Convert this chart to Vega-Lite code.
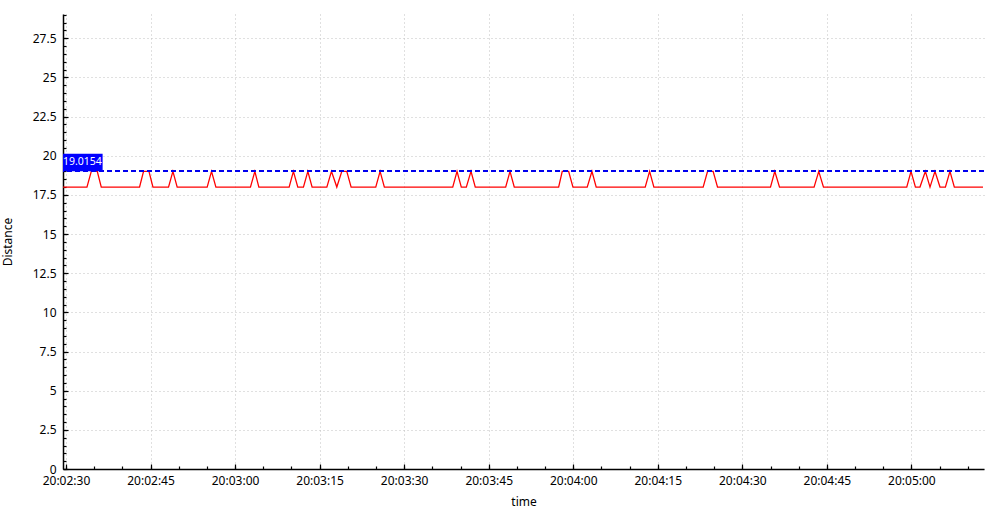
{
  "$schema": "https://vega.github.io/schema/vega-lite/v6.json",
  "width": 921,
  "height": 455,
  "autosize": "none",
  "padding": {"left": 63, "top": 14, "right": 15, "bottom": 48},
  "background": "white",
  "config": {
    "view": {"stroke": null},
    "font": "Noto Sans",
    "axis": {
      "labelFont": "Noto Sans",
      "labelFontSize": 12,
      "labelColor": "#000000",
      "titleFont": "Noto Sans",
      "titleFontSize": 12,
      "titleFontWeight": "normal",
      "titleColor": "#000000",
      "domainColor": "#000000",
      "domainWidth": 1.5,
      "tickColor": "#000000",
      "tickWidth": 1.2,
      "gridColor": "#c0c0c0",
      "gridDash": [1, 3],
      "gridWidth": 1
    }
  },
  "data": {
    "values": [
      {"time": "2024-01-01T20:02:29.470", "Distance": 18},
      {"time": "2024-01-01T20:02:33.720", "Distance": 18},
      {"time": "2024-01-01T20:02:34.490", "Distance": 19},
      {"time": "2024-01-01T20:02:35.550", "Distance": 19},
      {"time": "2024-01-01T20:02:36.260", "Distance": 18},
      {"time": "2024-01-01T20:02:43.050", "Distance": 18},
      {"time": "2024-01-01T20:02:43.760", "Distance": 19},
      {"time": "2024-01-01T20:02:44.720", "Distance": 19},
      {"time": "2024-01-01T20:02:45.430", "Distance": 18},
      {"time": "2024-01-01T20:02:48.190", "Distance": 18},
      {"time": "2024-01-01T20:02:48.970", "Distance": 19},
      {"time": "2024-01-01T20:02:49.730", "Distance": 18},
      {"time": "2024-01-01T20:02:55.050", "Distance": 18},
      {"time": "2024-01-01T20:02:55.820", "Distance": 19},
      {"time": "2024-01-01T20:02:56.600", "Distance": 18},
      {"time": "2024-01-01T20:03:02.730", "Distance": 18},
      {"time": "2024-01-01T20:03:03.510", "Distance": 19},
      {"time": "2024-01-01T20:03:04.220", "Distance": 18},
      {"time": "2024-01-01T20:03:09.590", "Distance": 18},
      {"time": "2024-01-01T20:03:10.350", "Distance": 19},
      {"time": "2024-01-01T20:03:11.130", "Distance": 18},
      {"time": "2024-01-01T20:03:12.130", "Distance": 18},
      {"time": "2024-01-01T20:03:12.910", "Distance": 19},
      {"time": "2024-01-01T20:03:13.670", "Distance": 18},
      {"time": "2024-01-01T20:03:16.280", "Distance": 18},
      {"time": "2024-01-01T20:03:17.100", "Distance": 19},
      {"time": "2024-01-01T20:03:18.050", "Distance": 18},
      {"time": "2024-01-01T20:03:18.940", "Distance": 19},
      {"time": "2024-01-01T20:03:19.820", "Distance": 19},
      {"time": "2024-01-01T20:03:20.590", "Distance": 18},
      {"time": "2024-01-01T20:03:24.960", "Distance": 18},
      {"time": "2024-01-01T20:03:25.730", "Distance": 19},
      {"time": "2024-01-01T20:03:26.490", "Distance": 18},
      {"time": "2024-01-01T20:03:38.620", "Distance": 18},
      {"time": "2024-01-01T20:03:39.380", "Distance": 19},
      {"time": "2024-01-01T20:03:40.140", "Distance": 18},
      {"time": "2024-01-01T20:03:41.030", "Distance": 18},
      {"time": "2024-01-01T20:03:41.860", "Distance": 19},
      {"time": "2024-01-01T20:03:42.620", "Distance": 18},
      {"time": "2024-01-01T20:03:48.010", "Distance": 18},
      {"time": "2024-01-01T20:03:48.780", "Distance": 19},
      {"time": "2024-01-01T20:03:49.540", "Distance": 18},
      {"time": "2024-01-01T20:03:57.410", "Distance": 18},
      {"time": "2024-01-01T20:03:58.050", "Distance": 19},
      {"time": "2024-01-01T20:03:59.180", "Distance": 19},
      {"time": "2024-01-01T20:03:59.950", "Distance": 18},
      {"time": "2024-01-01T20:04:02.480", "Distance": 18},
      {"time": "2024-01-01T20:04:03.320", "Distance": 19},
      {"time": "2024-01-01T20:04:04.080", "Distance": 18},
      {"time": "2024-01-01T20:04:12.770", "Distance": 18},
      {"time": "2024-01-01T20:04:13.550", "Distance": 19},
      {"time": "2024-01-01T20:04:14.310", "Distance": 18},
      {"time": "2024-01-01T20:04:23.050", "Distance": 18},
      {"time": "2024-01-01T20:04:23.830", "Distance": 19},
      {"time": "2024-01-01T20:04:24.820", "Distance": 19},
      {"time": "2024-01-01T20:04:25.600", "Distance": 18},
      {"time": "2024-01-01T20:04:35.000", "Distance": 18},
      {"time": "2024-01-01T20:04:35.760", "Distance": 19},
      {"time": "2024-01-01T20:04:36.600", "Distance": 18},
      {"time": "2024-01-01T20:04:42.730", "Distance": 18},
      {"time": "2024-01-01T20:04:43.560", "Distance": 19},
      {"time": "2024-01-01T20:04:44.400", "Distance": 18},
      {"time": "2024-01-01T20:04:59.170", "Distance": 18},
      {"time": "2024-01-01T20:04:59.930", "Distance": 19},
      {"time": "2024-01-01T20:05:00.710", "Distance": 18},
      {"time": "2024-01-01T20:05:01.520", "Distance": 18},
      {"time": "2024-01-01T20:05:02.480", "Distance": 19},
      {"time": "2024-01-01T20:05:03.300", "Distance": 18},
      {"time": "2024-01-01T20:05:04.180", "Distance": 19},
      {"time": "2024-01-01T20:05:05.070", "Distance": 18},
      {"time": "2024-01-01T20:05:06.030", "Distance": 18},
      {"time": "2024-01-01T20:05:06.840", "Distance": 19},
      {"time": "2024-01-01T20:05:07.620", "Distance": 18},
      {"time": "2024-01-01T20:05:12.700", "Distance": 18}
    ]
  },
  "resolve": {"scale": {"x": "shared", "y": "shared"}, "axis": {"x": "independent", "y": "independent"}},
  "layer": [
    {
      "mark": {"type": "line", "color": "#ff0000", "strokeWidth": 1.3},
      "encoding": {
        "x": {
          "field": "time",
          "type": "temporal",
          "title": "time",
          "scale": {
            "domain": ["2024-01-01T20:02:29.470", "2024-01-01T20:05:12.880"],
            "nice": false
          },
          "axis": {
            "orient": "bottom",
            "values": [
              "2024-01-01T20:02:30", "2024-01-01T20:02:45", "2024-01-01T20:03:00", "2024-01-01T20:03:15",
              "2024-01-01T20:03:30", "2024-01-01T20:03:45", "2024-01-01T20:04:00", "2024-01-01T20:04:15",
              "2024-01-01T20:04:30", "2024-01-01T20:04:45", "2024-01-01T20:05:00"
            ],
            "format": "%H:%M:%S",
            "ticks": false,
            "tickSize": 0,
            "labelPadding": 6,
            "titlePadding": 10
          }
        },
        "y": {
          "field": "Distance",
          "type": "quantitative",
          "title": "Distance",
          "scale": {"domain": [0, 29.05], "nice": false},
          "axis": {
            "orient": "left",
            "values": [0, 2.5, 5, 7.5, 10, 12.5, 15, 17.5, 20, 22.5, 25, 27.5],
            "labelExpr": "datum.value + ''",
            "ticks": false,
            "tickSize": 0,
            "labelPadding": 7,
            "titlePadding": 18
          }
        }
      }
    },
    {
      "mark": {"type": "rule", "color": "#0000ee", "strokeWidth": 1.2, "strokeDash": [5, 3]},
      "encoding": {
        "y": {"datum": 19.0154, "type": "quantitative",
          "axis": {"orient": "left", "title": null, "labels": false, "ticks": false, "grid": false, "domain": false}}
      }
    },
    {
      "data": {"values": [{"start": "2024-01-01T20:02:29.470", "end": "2024-01-01T20:02:36.500", "lo": 19.0154, "hi": 20.12}]},
      "mark": {"type": "rect", "color": "#0000ff"},
      "encoding": {
        "x": {
          "field": "start", "type": "temporal",
          "axis": {"orient": "bottom", "offset": -5, "title": null, "labels": false, "grid": false, "domain": false, "tickSize": 5,
            "values": [
              "2024-01-01T20:02:30", "2024-01-01T20:02:45", "2024-01-01T20:03:00", "2024-01-01T20:03:15",
              "2024-01-01T20:03:30", "2024-01-01T20:03:45", "2024-01-01T20:04:00", "2024-01-01T20:04:15",
              "2024-01-01T20:04:30", "2024-01-01T20:04:45", "2024-01-01T20:05:00"
            ]}
        },
        "x2": {"field": "end"},
        "y": {
          "field": "lo", "type": "quantitative",
          "axis": {"orient": "left", "offset": -5, "title": null, "labels": false, "grid": false, "domain": false, "tickSize": 5,
            "values": [0, 2.5, 5, 7.5, 10, 12.5, 15, 17.5, 20, 22.5, 25, 27.5]}
        },
        "y2": {"field": "hi"}
      }
    },
    {
      "data": {"values": [{"start": "2024-01-01T20:02:29.470", "mid": 19.57, "label": "19.0154"}]},
      "mark": {"type": "text", "color": "#ffffff", "align": "left", "baseline": "middle", "dx": 0, "fontSize": 10.5, "font": "Noto Sans"},
      "encoding": {
        "x": {"field": "start", "type": "temporal",
          "axis": {"orient": "bottom", "offset": -3, "title": null, "labels": false, "grid": false, "domain": false, "tickSize": 3,
            "values": [
              "2024-01-01T20:02:30", "2024-01-01T20:02:35", "2024-01-01T20:02:40", "2024-01-01T20:02:45", "2024-01-01T20:02:50", "2024-01-01T20:02:55",
              "2024-01-01T20:03:00", "2024-01-01T20:03:05", "2024-01-01T20:03:10", "2024-01-01T20:03:15", "2024-01-01T20:03:20", "2024-01-01T20:03:25",
              "2024-01-01T20:03:30", "2024-01-01T20:03:35", "2024-01-01T20:03:40", "2024-01-01T20:03:45", "2024-01-01T20:03:50", "2024-01-01T20:03:55",
              "2024-01-01T20:04:00", "2024-01-01T20:04:05", "2024-01-01T20:04:10", "2024-01-01T20:04:15", "2024-01-01T20:04:20", "2024-01-01T20:04:25",
              "2024-01-01T20:04:30", "2024-01-01T20:04:35", "2024-01-01T20:04:40", "2024-01-01T20:04:45", "2024-01-01T20:04:50", "2024-01-01T20:04:55",
              "2024-01-01T20:05:00", "2024-01-01T20:05:05", "2024-01-01T20:05:10"
            ]}},
        "y": {"field": "mid", "type": "quantitative",
          "axis": {"orient": "left", "offset": -3, "title": null, "labels": false, "grid": false, "domain": false, "tickSize": 3,
            "values": [0,0.5,1,1.5,2,2.5,3,3.5,4,4.5,5,5.5,6,6.5,7,7.5,8,8.5,9,9.5,10,10.5,11,11.5,12,12.5,13,13.5,14,14.5,15,15.5,16,16.5,17,17.5,18,18.5,19,19.5,20,20.5,21,21.5,22,22.5,23,23.5,24,24.5,25,25.5,26,26.5,27,27.5,28,28.5,29]}},
        "text": {"field": "label"}
      }
    }
  ]
}
